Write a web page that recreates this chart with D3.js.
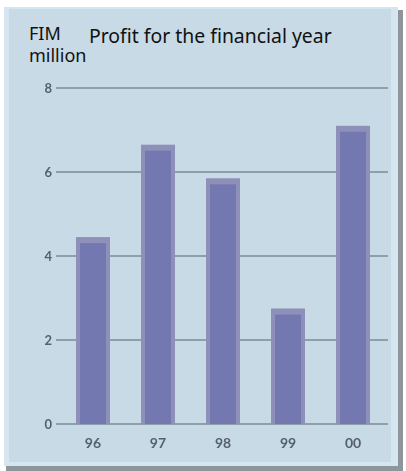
<!DOCTYPE html>
<html>
<head>
<meta charset="utf-8">
<script src="https://cdn.jsdelivr.net/npm/d3@7"></script>
<style>
  html, body { margin: 0; padding: 0; background: #ffffff; }
  svg { display: block; }
  text { font-variant-ligatures: none; }
</style>
</head>
<body>
<svg id="chart" width="406" height="471"></svg>
<script>
// Profit for the financial year, FIM million
const years = ["96", "97", "98", "99", "00"];
const profit = [4.45, 6.65, 5.85, 2.75, 7.1];
const yTicks = [0, 2, 4, 6, 8];

const svg = d3.select("#chart");

const defs = svg.append("defs");
defs.append("filter").attr("id", "soft")
  .append("feGaussianBlur").attr("stdDeviation", 0.45);

// panel with soft shadow on right and bottom
svg.append("rect").attr("x", 6).attr("y", 10).attr("width", 397).attr("height", 461)
  .attr("fill", "#8e969c");
svg.append("rect").attr("x", 4).attr("y", 7).attr("width", 394).attr("height", 459)
  .attr("fill", "#d6e6f1");
svg.append("rect").attr("x", 9).attr("y", 9).attr("width", 382).attr("height", 453)
  .attr("fill", "#c7dae5");

const x = d3.scaleBand().domain(years).range([60, 386])
  .paddingInner(0.477).paddingOuter(0.246);
const y = d3.scaleLinear().domain([0, 8]).range([424, 88]);

// gridlines
svg.append("g").selectAll("line").data(yTicks).join("line")
  .attr("x1", 56).attr("x2", 388)
  .attr("y1", d => y(d)).attr("y2", d => y(d))
  .attr("stroke", "#7a8c96").attr("stroke-width", 1.5);

const tickFont = "Lato, 'DejaVu Sans', sans-serif";

// y tick labels
svg.append("g").attr("filter", "url(#soft)").selectAll("text").data(yTicks).join("text")
  .attr("x", 52).attr("y", d => y(d)).attr("dy", "0.36em")
  .attr("text-anchor", "end")
  .attr("font-family", tickFont)
  .attr("font-size", 13).attr("font-weight", "bold")
  .attr("fill", "#56616a")
  .text(d => d);

// bars: light outer body, darker core
const bars = svg.append("g").selectAll("g").data(years.map((k, i) => ({ k, v: profit[i] }))).join("g");
bars.append("rect")
  .attr("x", d => x(d.k)).attr("width", x.bandwidth())
  .attr("y", d => y(d.v)).attr("height", d => y(0) - y(d.v))
  .attr("fill", "#8e90b9");
bars.append("rect")
  .attr("x", d => x(d.k) + 4).attr("width", x.bandwidth() - 8)
  .attr("y", d => y(d.v) + 6).attr("height", d => y(0) - y(d.v) - 6)
  .attr("fill", "#7478b0");

// x tick labels
svg.append("g").attr("filter", "url(#soft)").selectAll("text").data(years).join("text")
  .attr("x", d => x(d) + x.bandwidth() / 2).attr("y", 443).attr("dy", "0.36em")
  .attr("text-anchor", "middle")
  .attr("font-family", tickFont)
  .attr("font-size", 14).attr("font-weight", "bold")
  .attr("fill", "#56616a")
  .text(d => d);

// titles
const tf = "'Noto Sans', 'Open Sans', sans-serif";
svg.append("text").attr("x", 29).attr("y", 40)
  .attr("font-family", tf).attr("font-size", 18).attr("fill", "#111")
  .text("FIM");
svg.append("text").attr("x", 29).attr("y", 62)
  .attr("font-family", tf).attr("font-size", 18).attr("fill", "#111")
  .text("million");
svg.append("text").attr("x", 89).attr("y", 43)
  .attr("font-family", tf).attr("font-size", 19.4).attr("fill", "#111")
  .text("Profit for the financial year");
</script>
</body>
</html>
